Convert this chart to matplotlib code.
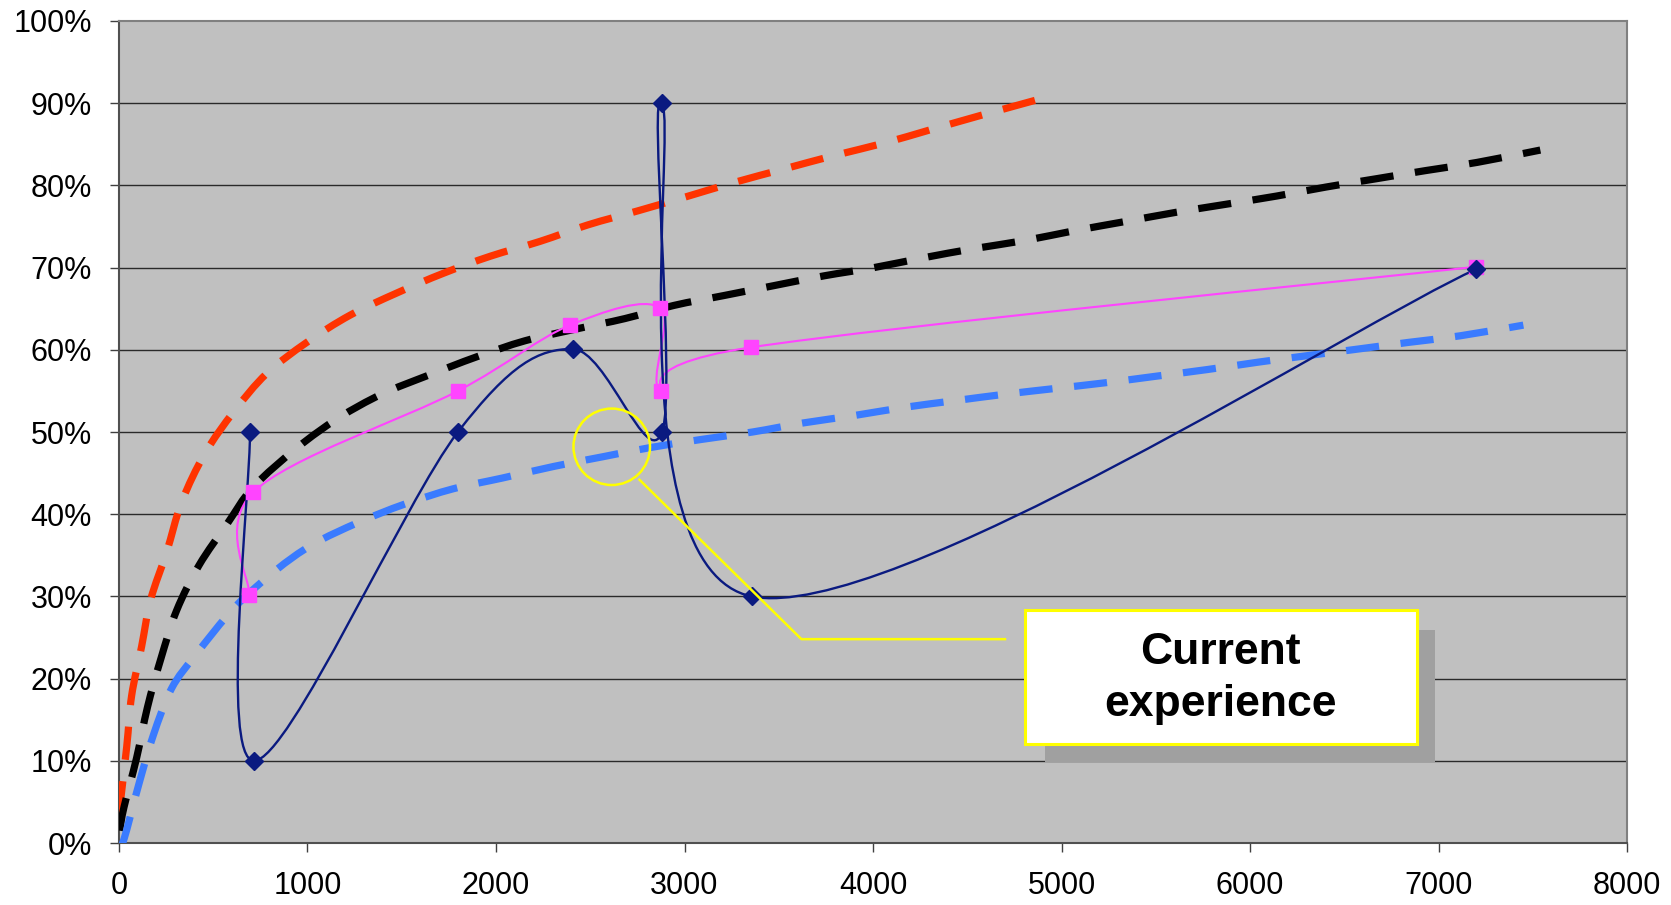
import matplotlib
matplotlib.use("Agg")
import matplotlib.pyplot as plt
from matplotlib.path import Path
from matplotlib.patches import PathPatch, Rectangle, Ellipse

plt.rcParams['font.family'] = ['Liberation Sans', 'DejaVu Sans']

# measured experience (navy diamonds)
exp_x = [695, 717, 1798, 2406, 2881, 2881, 3356, 7199]
exp_y = [50, 10, 50, 60.1, 50, 90, 30, 69.8]

# second measured series (pink squares)
pink_x = [692, 713, 1798, 2393, 2870, 2875, 3353, 7199]
pink_y = [30.2, 42.7, 55, 63, 65.1, 55, 60.3, 70.1]

# upper curve (red dashes)
red_x = [0, 41, 67, 120, 168, 253, 333, 456, 610, 783, 996, 1225, 1473, 1720,
         1972, 2235, 2488, 2752, 3006, 3270, 3528, 3788, 4051, 4309, 4569, 4900]
red_y = [3.5, 11.7, 17.9, 23.9, 29.6, 35.4, 41.5, 47.4, 52.5, 57.1, 60.9, 64.2, 66.9, 69.3,
         71.4, 73.2, 75.2, 76.9, 78.6, 80.4, 82, 83.6, 85.1, 86.8, 88.5, 90.6]

# middle curve (black dashes)
blk_x = [3, 27, 94, 151, 222, 306, 425, 576, 712, 946, 1164, 1393, 1641, 1892, 2154,
         2419, 2684, 2944, 3209, 3473, 3741, 4005, 4269, 4533, 4806, 5071, 5337,
         5601, 5871, 6140, 6403, 6667, 6931, 7205, 7540]
blk_y = [1.5, 4.4, 10.4, 16.5, 22.4, 28.3, 33.8, 38.9, 43.3, 48.1, 51.7, 54.6, 56.9, 59.1, 61.1,
         62.5, 63.8, 65.4, 66.6, 67.8, 69, 70, 71.2, 72.3, 73.3, 74.5, 75.6,
         76.7, 77.7, 78.7, 79.8, 80.8, 81.8, 82.8, 84.3]

# lower curve (blue dashes)
blu_x = [0, 27, 106, 182, 279, 407, 615, 828, 1026, 1270, 1512, 1774, 2034, 2304,
         2569, 2817, 3091, 3361, 3629, 3899, 4167, 4431, 4701, 4968, 5236, 5506,
         5774, 6044, 6308, 6576, 6840, 7114, 7450]
blu_y = [-0.5, 0.5, 7.2, 13.1, 18.8, 22.9, 28.7, 33.1, 36.3, 39.0, 41.2, 43.1, 44.4, 45.8,
         47.0, 48.1, 49.1, 50.0, 51.1, 52.0, 53.0, 53.8, 54.6, 55.3, 56.0, 56.8,
         57.6, 58.5, 59.3, 60.1, 60.9, 61.7, 63.0]

x_ticks = [0, 1000, 2000, 3000, 4000, 5000, 6000, 7000, 8000]
y_ticks = [0, 10, 20, 30, 40, 50, 60, 70, 80, 90, 100]
y_labels = [f"{v}%" for v in y_ticks]


def smooth_path(xs, ys):
    # spreadsheet-style smoothed line: bezier with 1/6 neighbour tangents
    pts = list(zip(xs, ys))
    n = len(pts)
    verts = [pts[0]]
    codes = [Path.MOVETO]
    for i in range(n - 1):
        p0 = pts[i - 1] if i > 0 else pts[i]
        p1 = pts[i]
        p2 = pts[i + 1]
        p3 = pts[i + 2] if i + 2 < n else pts[i + 1]
        c1 = (p1[0] + (p2[0] - p0[0]) / 6, p1[1] + (p2[1] - p0[1]) / 6)
        c2 = (p2[0] - (p3[0] - p1[0]) / 6, p2[1] - (p3[1] - p1[1]) / 6)
        verts += [c1, c2, p2]
        codes += [Path.CURVE4] * 3
    return Path(verts, codes)


fig = plt.figure(figsize=(16.71, 9.05), dpi=100)
ax = fig.add_axes([0.0712, 0.0685, 0.9025, 0.9083])
ax.set_facecolor('#c0c0c0')
ax.set_xlim(0, 8000)
ax.set_ylim(0, 100)

for v in y_ticks[1:-1]:
    ax.axhline(v, color='#2a2a2a', lw=1.0, zorder=1)

dash = (0, (4.6, 3.0))
for xs, ys, col in [(red_x, red_y, '#ff3300'), (blk_x, blk_y, '#000000'), (blu_x, blu_y, '#3a7bff')]:
    ax.add_patch(PathPatch(smooth_path(xs, ys), fill=False, edgecolor=col, lw=5.2,
                           linestyle=dash, capstyle='butt', zorder=3))

ax.add_patch(PathPatch(smooth_path(pink_x, pink_y), fill=False, edgecolor='#ff44ff', lw=1.5, zorder=4))
ax.plot(pink_x, pink_y, linestyle='none', marker='s', ms=10, color='#ff44ff', zorder=5)

ax.add_patch(PathPatch(smooth_path(exp_x, exp_y), fill=False, edgecolor='#0a1a80', lw=1.7, zorder=4))
ax.plot(exp_x, exp_y, linestyle='none', marker='D', ms=9, color='#0a1a80', zorder=5)

# callout: circle, leader line and text box with shadow
ax.add_patch(Ellipse((2614, 48.2), 406, 9.3, fill=False, edgecolor='#ffff00', lw=1.8, zorder=6))
ax.plot([2761, 3620, 4700], [44.2, 24.8, 24.8], color='#ffff00', lw=1.8, zorder=6)
ax.add_patch(Rectangle((4912, 9.9), 2069, 16.0, facecolor='#a0a0a0', edgecolor='none', zorder=6))
ax.add_patch(Rectangle((4806, 12.1), 2078, 16.2, facecolor='white', edgecolor='#ffff00', lw=2.2, zorder=7))
ax.text(5845, 20.0, "Current\nexperience", ha='center', va='center', fontsize=32,
        fontweight='bold', linespacing=1.35, zorder=8)

ax.set_xticks(x_ticks)
ax.set_xticklabels([str(v) for v in x_ticks])
ax.set_yticks(y_ticks)
ax.set_yticklabels(y_labels)
ax.tick_params(axis='both', direction='out', length=6.5, width=1, colors='#404040',
               labelsize=22, labelcolor='black', pad=14)
ax.tick_params(axis='y', pad=13)

for side in ['left', 'bottom']:
    ax.spines[side].set_color('#505050')
    ax.spines[side].set_linewidth(1.5)
for side in ['top', 'right']:
    ax.spines[side].set_color('#808080')
    ax.spines[side].set_linewidth(1.5)

fig.savefig("out.png", dpi=100, facecolor='white')
